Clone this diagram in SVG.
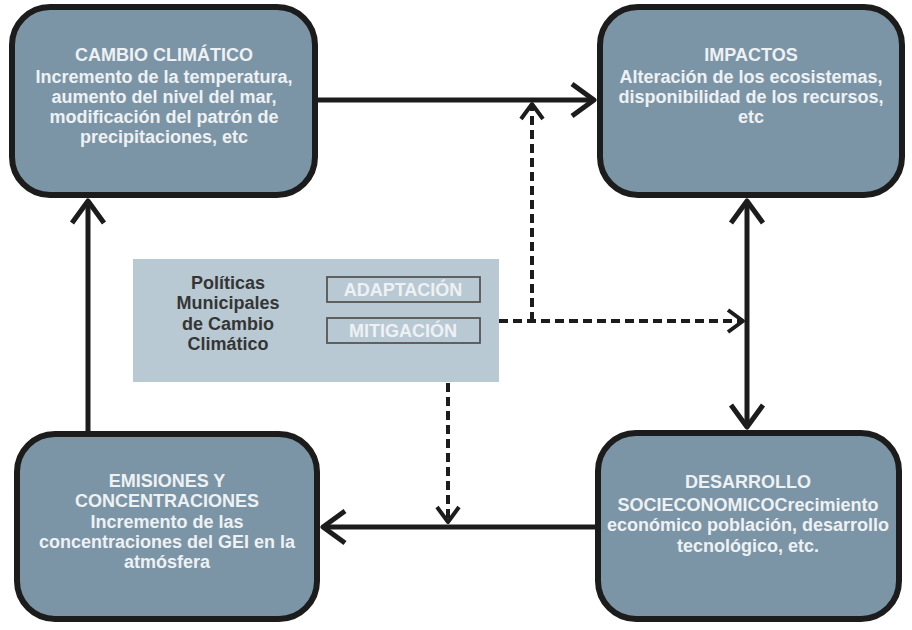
<svg xmlns="http://www.w3.org/2000/svg" width="912" height="630" viewBox="0 0 912 630">
<style>
.box{fill:#7b95a6;stroke:#1c1c1c;stroke-width:6}
.bt{font-family:"Liberation Sans",Arial,sans-serif;font-weight:bold;font-size:18px;fill:#eef1f3;text-anchor:middle}
.pt{font-family:"Liberation Sans",Arial,sans-serif;font-weight:bold;font-size:18px;fill:#353535;text-anchor:middle}
.solid{fill:none;stroke:#1c1c1c;stroke-width:5}
.dash{fill:none;stroke:#1c1c1c;stroke-width:4;stroke-dasharray:9 5}
.tag{fill:#b9c9d3;stroke:#555;stroke-width:1.8}
</style>
<defs>
<marker id="big" markerUnits="userSpaceOnUse" viewBox="-30 -20 34 40" refX="0" refY="0" markerWidth="34" markerHeight="40" orient="auto-start-reverse">
<path d="M-22,-16 L0,0 L-22,16" fill="none" stroke="#1c1c1c" stroke-width="5" stroke-linejoin="round"/>
</marker>
<marker id="small" markerUnits="userSpaceOnUse" viewBox="-20 -14 24 28" refX="0" refY="0" markerWidth="24" markerHeight="28" orient="auto">
<path d="M-15,-11 L0,0 L-15,11" fill="none" stroke="#1c1c1c" stroke-width="4" stroke-linejoin="round"/>
</marker>
</defs>
<rect width="912" height="630" fill="#ffffff"/>
<g id="connectors">
<line class="solid" x1="318" y1="100" x2="594" y2="100" marker-end="url(#big)"/>
<line class="solid" x1="595" y1="527" x2="323" y2="527" marker-end="url(#big)"/>
<line class="solid" x1="88" y1="431" x2="88" y2="201" marker-end="url(#big)"/>
<line class="solid" x1="747" y1="201" x2="747" y2="427" marker-start="url(#big)" marker-end="url(#big)"/>
<path class="dash" d="M499,321 H743" marker-end="url(#small)"/>
<path class="dash" d="M532,321 V104" marker-end="url(#small)"/>
<path class="dash" d="M448,383 V522" marker-end="url(#small)"/>
</g>
<g id="cambio">
<rect class="box" x="12" y="7" width="303" height="188" rx="38"/>
<text class="bt" x="164" y="61">CAMBIO CLIMÁTICO</text>
<text class="bt" x="164" y="83">Incremento de la temperatura,</text>
<text class="bt" x="164" y="103">aumento del nivel del mar,</text>
<text class="bt" x="164" y="123">modificación del patrón de</text>
<text class="bt" x="164" y="143">precipitaciones, etc</text>
</g>
<g id="impactos">
<rect class="box" x="600" y="7" width="302" height="188" rx="38"/>
<text class="bt" x="751" y="61">IMPACTOS</text>
<text class="bt" x="751" y="83">Alteración de los ecosistemas,</text>
<text class="bt" x="751" y="103">disponibilidad de los recursos,</text>
<text class="bt" x="751" y="123">etc</text>
</g>
<g id="emisiones">
<rect class="box" x="17" y="434" width="300" height="185" rx="38"/>
<text class="bt" x="167" y="487">EMISIONES Y</text>
<text class="bt" x="167" y="507">CONCENTRACIONES</text>
<text class="bt" x="167" y="528">Incremento de las</text>
<text class="bt" x="167" y="548">concentraciones del GEI en la</text>
<text class="bt" x="167" y="568">atmósfera</text>
</g>
<g id="desarrollo">
<rect class="box" x="598" y="433" width="301" height="186" rx="38"/>
<text class="bt" x="748" y="488">DESARROLLO</text>
<text class="bt" x="748" y="511">SOCIECONOMICOCrecimiento</text>
<text class="bt" x="748" y="531">económico población, desarrollo</text>
<text class="bt" x="748" y="552">tecnológico, etc.</text>
</g>
<g id="politicas">
<rect x="133" y="259" width="366" height="123" fill="#b9c9d3"/>
<text class="pt" x="228" y="289">Políticas</text>
<text class="pt" x="228" y="309">Municipales</text>
<text class="pt" x="228" y="330">de Cambio</text>
<text class="pt" x="228" y="350">Climático</text>
<rect class="tag" x="327" y="277" width="153" height="25"/>
<text class="bt" x="403" y="296">ADAPTACIÓN</text>
<rect class="tag" x="327" y="318" width="153" height="25"/>
<text class="bt" x="403" y="337">MITIGACIÓN</text>
</g>
</svg>
